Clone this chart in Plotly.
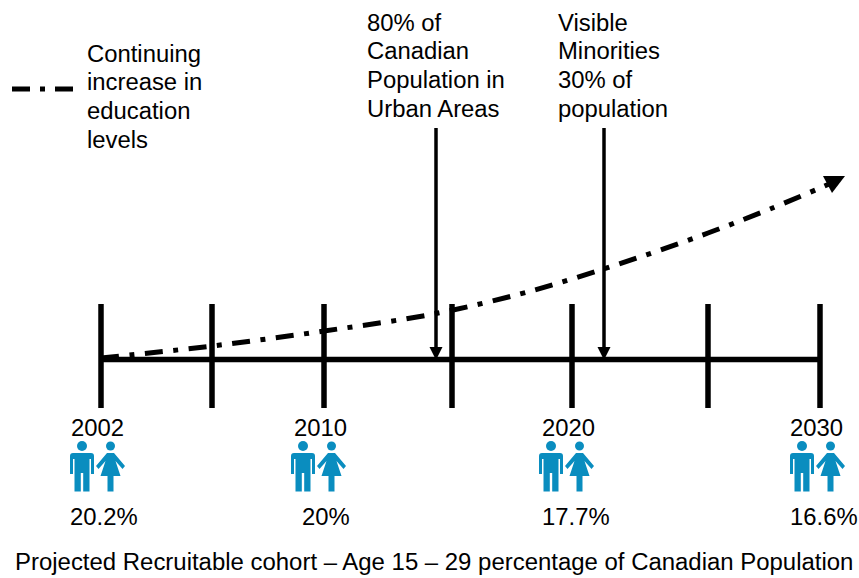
import plotly.graph_objects as go

W, H = 859, 578
FONT = "Liberation Sans"
BLUE = "#0A8DBF"

# Data (position on the timeline in chart units)
tick_positions = [101, 212, 324, 452, 572, 708, 820]
tick_top, tick_bottom, axis_level = 304, 408, 359.5
years = ["2002", "2010", "2020", "2030"]
year_positions = [97, 320.5, 568.5, 816]
percents = ["20.2%", "20%", "17.7%", "16.6%"]
percent_positions = [104, 325.5, 575.5, 824]
icon_positions = [96, 317, 565, 816]
trend_x = [101, 212, 324, 436, 520, 572, 640, 708, 770, 834]
trend_y = [358, 346, 331, 313.5, 294, 279, 257, 233, 209, 182]
event_labels = [["80% of", "Canadian", "Population in", "Urban Areas"],
                ["Visible", "Minorities", "30% of", "population"]]
event_label_x = [366.5, 558]
event_x = [436, 604]
legend_lines = ["Continuing", "increase in", "education", "levels"]
caption = "Projected Recruitable cohort – Age 15 – 29 percentage of Canadian Population"

fig = go.Figure()
axis_style = dict(color="black", width=5.5)

fig.add_trace(go.Scatter(x=[tick_positions[0], tick_positions[-1]], y=[axis_level, axis_level],
                         mode="lines", line=axis_style, showlegend=False, hoverinfo="skip"))
for t in tick_positions:
    fig.add_trace(go.Scatter(x=[t, t], y=[tick_top, tick_bottom], mode="lines",
                             line=axis_style, showlegend=False, hoverinfo="skip"))

DASH = "18px,10.5px,5px,10.5px"
fig.add_trace(go.Scatter(x=trend_x, y=trend_y, mode="lines",
                         line=dict(color="black", width=5, dash=DASH, shape="spline"),
                         showlegend=False, hoverinfo="skip"))
fig.add_trace(go.Scatter(x=[12, 76], y=[89, 89], mode="lines",
                         line=dict(color="black", width=5, dash="18px,10px,5px,10px,18px"),
                         showlegend=False, hoverinfo="skip"))

shapes = []
# arrow head of the trend line
shapes.append(dict(type="path", path="M823,176 L845,176 L832,193 Z",
                   fillcolor="black", line=dict(width=0), layer="above"))
# event arrows
for ex in event_x:
    shapes.append(dict(type="line", x0=ex, x1=ex, y0=128, y1=350,
                       line=dict(color="black", width=3.5), layer="above"))
    shapes.append(dict(type="path", path=f"M{ex-6.5},347 L{ex+6.5},347 L{ex},360 Z",
                       fillcolor="black", line=dict(width=0), layer="above"))


def person_icons(c):
    m = c - 14
    w = c + 14.5
    man_body = (f"M{m-12},456 Q{m-12},453 {m-9},453 L{m+9},453 Q{m+12},453 {m+12},456 "
                f"L{m+12},474 L{m+9},474 L{m+9},459 L{m+7.5},459 L{m+7.5},491.5 L{m+1.2},491.5 "
                f"L{m+1.2},473 L{m-1.2},473 L{m-1.2},491.5 L{m-7.5},491.5 L{m-7.5},459 "
                f"L{m-9},459 L{m-9},474 L{m-12},474 Z")
    woman_body = (f"M{w-3.5},453 L{w+3.5},453 L{w+14.5},466 L{w+12},469 L{w+5},461 L{w+10},476 "
                  f"L{w+3},476 L{w+3},491.5 L{w-3},491.5 L{w-3},476 L{w-10},476 L{w-5},461 "
                  f"L{w-12},469 L{w-14.5},466 Z")
    out = []
    for path in (man_body, woman_body):
        out.append(dict(type="path", path=path, fillcolor=BLUE, line=dict(width=0)))
    out.append(dict(type="circle", x0=m-5, x1=m+5, y0=441, y1=451,
                    fillcolor=BLUE, line=dict(width=0)))
    out.append(dict(type="circle", x0=w-4.5, x1=w+4.5, y0=441.5, y1=450.5,
                    fillcolor=BLUE, line=dict(width=0)))
    return out


for c in icon_positions:
    shapes += person_icons(c)

annotations = []


def label(x, y, text, anchor="center", size=23.85):
    annotations.append(dict(x=x, y=y, text=text, showarrow=False, xanchor=anchor, yanchor="middle",
                            align="left" if anchor == "left" else "center",
                            font=dict(family=FONT, size=size, color="black"),
                            xref="x", yref="y", borderpad=0, borderwidth=0))


for x, t in zip(year_positions, years):
    label(x, 427, t)
for x, t in zip(percent_positions, percents):
    label(x, 516, t)
LINE_STEP = 28.7
for x, lines in zip(event_label_x, event_labels):
    for i, t in enumerate(lines):
        label(x, 22 + i * LINE_STEP, t, anchor="left")
for i, t in enumerate(legend_lines):
    label(87, 53 + i * LINE_STEP, t, anchor="left")
label(434, 561, caption, size=23.95)

fig.update_layout(
    width=W, height=H, autosize=False,
    margin=dict(l=0, r=0, t=0, b=0),
    paper_bgcolor="white", plot_bgcolor="white",
    xaxis=dict(range=[0, W], visible=False, fixedrange=True),
    yaxis=dict(range=[H, 0], visible=False, fixedrange=True),
    shapes=shapes, annotations=annotations, showlegend=False,
)
fig.write_html("out.html", config=dict(displayModeBar=False),
               post_script="document.body.style.margin='0';document.body.style.overflow='hidden';")
